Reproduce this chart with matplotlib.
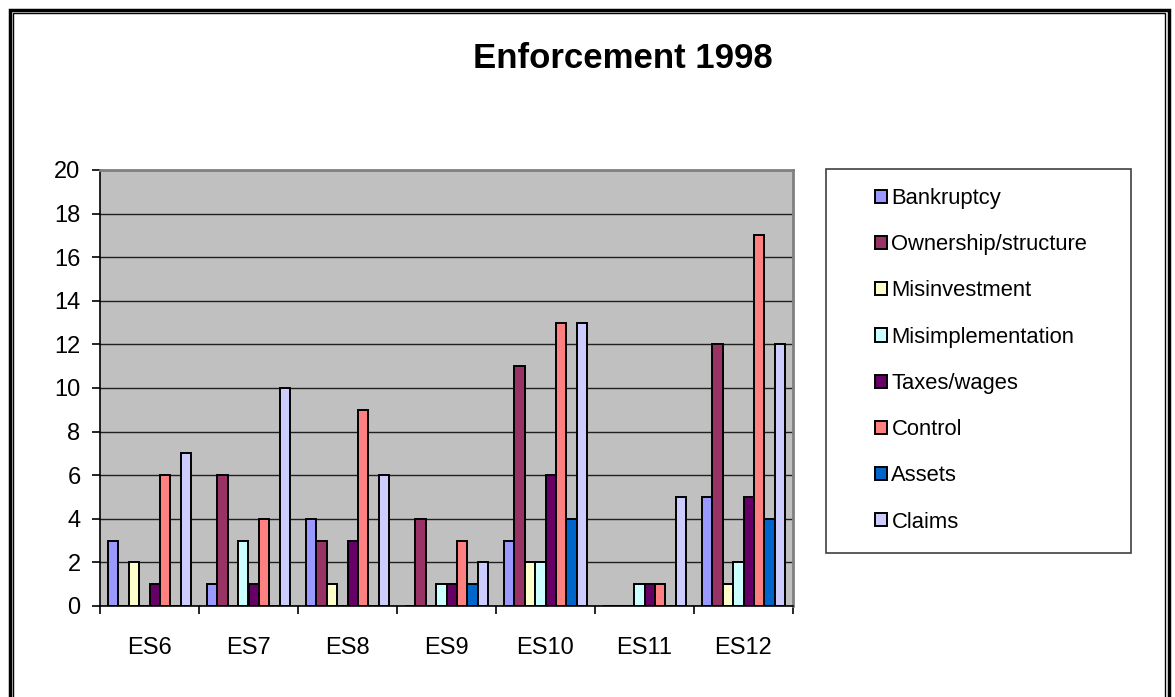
import numpy as np
import matplotlib.pyplot as plt
from matplotlib.patches import Rectangle

plt.rcParams['font.family'] = ['Liberation Sans', 'DejaVu Sans']

groups = ['ES6', 'ES7', 'ES8', 'ES9', 'ES10', 'ES11', 'ES12']
series = ['Bankruptcy', 'Ownership/structure', 'Misinvestment',
          'Misimplementation', 'Taxes/wages', 'Control', 'Assets', 'Claims']
bankruptcy = [3, 1, 4, 0, 3, 0, 5]
ownership = [0, 6, 3, 4, 11, 0, 12]
misinvestment = [2, 0, 1, 0, 2, 0, 1]
misimplementation = [0, 3, 0, 1, 2, 1, 2]
taxes = [1, 1, 3, 1, 6, 1, 5]
control = [6, 4, 9, 3, 13, 1, 17]
assets = [0, 0, 0, 1, 4, 0, 4]
claims = [7, 10, 6, 2, 13, 5, 12]
values = [bankruptcy, ownership, misinvestment, misimplementation,
          taxes, control, assets, claims]
colors = ['#9999FF', '#993366', '#FFFFCC', '#CCFFFF',
          '#660066', '#FF8080', '#0066CC', '#CCCCFF']

W, H = 1175, 697
fig = plt.figure(figsize=(W / 100, H / 100), dpi=100)
fig.patch.set_facecolor('white')

ax = fig.add_axes([100 / W, 1 - 606 / H, 693 / W, 436 / H])
ax.set_facecolor('#C0C0C0')

x = np.arange(len(groups))
bw = 0.106
for i, (name, vals, c) in enumerate(zip(series, values, colors)):
    ax.bar(x + (i - 3.5) * bw, vals, bw, color=c, edgecolor='black',
           linewidth=1.4, label=name, zorder=3)

ax.set_xlim(-0.5, len(groups) - 0.5)
ax.set_ylim(0, 20)
ax.set_yticks(range(0, 21, 2))
ax.yaxis.grid(True, color='#202020', linewidth=1.0, zorder=1)
ax.set_axisbelow(True)

ax.set_xticks(x)
ax.set_xticklabels(groups, fontsize=17)
ax.set_xticks(np.arange(-0.5, len(groups)), minor=True)
ax.tick_params(axis='x', which='major', length=0, pad=22)
ax.tick_params(axis='x', which='minor', length=6, width=1.2, direction='out')
ax.tick_params(axis='y', labelsize=17, length=6, width=1.2, pad=8)

for s in ['top', 'right']:
    ax.spines[s].set_color('#808080')
    ax.spines[s].set_linewidth(2)
for s in ['left', 'bottom']:
    ax.spines[s].set_color('black')
    ax.spines[s].set_linewidth(1.2)

fig.text(623 / W, 1 - 59 / H, 'Enforcement 1998', fontsize=25,
         fontweight='bold', ha='center', va='center')

# legend box
fig.patches.append(Rectangle((826 / W, 1 - 553 / H), 305 / W, 384 / H,
                             transform=fig.transFigure, fill=False,
                             edgecolor='#404040', linewidth=1.2))
handles, labels = ax.get_legend_handles_labels()
leg = fig.legend(handles, labels, loc='upper left',
                 bbox_to_anchor=(864 / W, 1 - 177 / H), frameon=False,
                 fontsize=15.8, handlelength=0.55, handleheight=0.55,
                 handletextpad=0.2, labelspacing=1.15, borderpad=0)

# outer double frame
fig.patches.append(Rectangle((9.5 / W, -0.05), 1159 / W, 1.05 - 9.5 / H,
                             transform=fig.transFigure, fill=False,
                             edgecolor='black', linewidth=2.5))
fig.patches.append(Rectangle((13 / W, -0.05), 1152 / W, 1.05 - 13 / H,
                             transform=fig.transFigure, fill=False,
                             edgecolor='black', linewidth=1.0))

fig.savefig('out.png', dpi=100)
